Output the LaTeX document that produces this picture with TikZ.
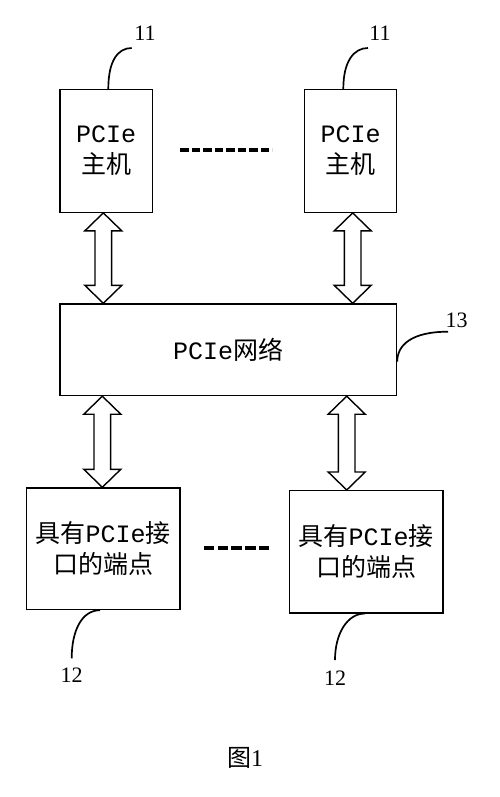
\documentclass[tikz,border=0pt]{standalone}
\usepackage{fontspec}
\setmainfont{Liberation Serif}
\newfontfamily\cjk{Noto Sans CJK SC}
\newfontfamily\lat{Liberation Mono}
\usetikzlibrary{calc}
\newcommand{\myarrow}[2]{%
  \draw[blockarr] (#1) -- ($(#1)+(18.5,18)$) -- ($(#1)+(8.3,18)$) -- ($(#2)+(8.3,-18)$) -- ($(#2)+(18.5,-18)$) -- (#2) -- ($(#2)+(-18.5,-18)$) -- ($(#2)+(-8.3,-18)$) -- ($(#1)+(-8.3,18)$) -- ($(#1)+(-18.5,18)$) -- cycle;}
\tikzset{
  box/.style={draw, line width=1.2pt, inner sep=0pt, anchor=north west, align=center,
    font=\fontsize{25}{31}\selectfont},
  blockarr/.style={draw, line width=1.4pt, fill=white, line join=miter},
  leader/.style={line width=1.7pt},
  num/.style={font=\fontsize{22}{22}\selectfont, inner sep=0pt},
  dots/.style={line width=4pt, dash pattern=on 8.5pt off 3pt},
  dots2/.style={line width=4pt, dash pattern=on 10.4pt off 3.3pt}
}
\begin{document}
\begin{tikzpicture}[x=1pt,y=-1pt]
\useasboundingbox (0,0) rectangle (500,797);
% hosts
\node[box, minimum width=92.4pt, minimum height=122.7pt] (h1) at (59.3,89) {{\lat PCIe}\\{\cjk 主机}};
\node[box, minimum width=92pt, minimum height=122.7pt] (h2) at (304,89) {{\lat PCIe}\\{\cjk 主机}};
% network
\node[box, minimum width=336.7pt, minimum height=91.7pt] (net) at (59.3,303.3) {{\lat PCIe}{\cjk 网络}};
% endpoints
\node[box, minimum width=153.3pt, minimum height=121.7pt] (e1) at (26,487.3) {{\cjk 具有}{\lat PCIe}{\cjk 接}\\{\cjk 口的端点}};
\node[box, minimum width=153.6pt, minimum height=122.3pt] (e2) at (288.7,490) {{\cjk 具有}{\lat PCIe}{\cjk 接}\\{\cjk 口的端点}};
% arrow end points
\coordinate (a1t) at ($(h1.south west)+(44,0)$);
\coordinate (a1b) at (a1t |- net.north);
\coordinate (a2t) at ($(h2.south west)+(48.7,0)$);
\coordinate (a2b) at (a2t |- net.north);
\coordinate (a3t) at ($(net.south west)+(43,0)$);
\coordinate (a3b) at (a3t |- e1.north);
\coordinate (a4t) at ($(net.south west)+(287.4,0)$);
\coordinate (a4b) at (a4t |- e2.north);
\myarrow{a1t}{a1b}
\myarrow{a2t}{a2b}
\myarrow{a3t}{a3b}
\myarrow{a4t}{a4b}
% dashes
\coordinate (d1a) at (180,150);
\coordinate (d1b) at (272,150);
\draw[dots] (d1a) -- (d1b);
\coordinate (d2a) at (204,547.7);
\coordinate (d2b) at (270,547.7);
\draw[dots2] (d2a) -- (d2b);
% labels and leaders
\node[num] (l1) at (145,33) {11};
\node[num] (l2) at (380,33) {11};
\node[num] (l3) at (456.7,320.7) {13};
\node[num] (l4) at (71.7,675) {12};
\node[num] (l5) at (335,678.3) {12};
\coordinate (s1) at ($(h1.north west)+(49,0)$);
\coordinate (s2) at ($(h2.north west)+(39.3,0)$);
\coordinate (s3) at ($(net.north east)+(0,58.4)$);
\coordinate (s4) at ($(e1.south west)+(74,0)$);
\coordinate (s5) at ($(e2.south west)+(76.3,0)$);
\coordinate (t1) at (131.7,48);
\coordinate (t2) at (368,48);
\coordinate (t3) at (448,331.7);
\coordinate (t4) at (71.7,658.3);
\coordinate (t5) at (335,660);
\draw[leader] (s1) .. controls ($(s1)+(0,-28)$) and ($(t1)+(-14,0)$) .. (t1);
\draw[leader] (s2) .. controls ($(s2)+(0,-28)$) and ($(t2)+(-14,0)$) .. (t2);
\draw[leader] (s3) .. controls ($(s3)+(0,-17)$) and ($(t3)+(-36,0)$) .. (t3);
\draw[leader] (s4) .. controls ($(s4)+(-18,0)$) and ($(t4)+(0,-28)$) .. (t4);
\draw[leader] (s5) .. controls ($(s5)+(-18,0)$) and ($(t5)+(0,-26)$) .. (t5);
% caption
\node[inner sep=0pt, font=\fontsize{24}{24}\selectfont] (cap) at (245,758) {{\cjk 图}1};
\end{tikzpicture}
\end{document}
